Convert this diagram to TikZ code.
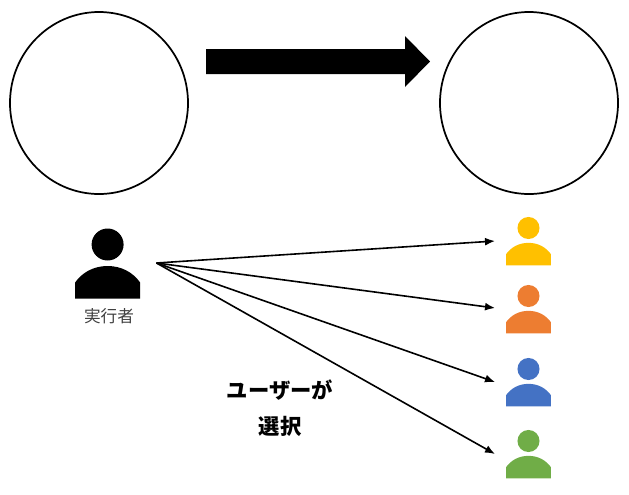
\documentclass[tikz,border=0pt]{standalone}
\usepackage{fontspec}
\usepackage{tikz}
\usetikzlibrary{arrows.meta,shapes.geometric}
\newfontfamily\cjk{Noto Sans CJK JP}
\definecolor{useryellow}{HTML}{FFC000}
\definecolor{userorange}{HTML}{ED7D31}
\definecolor{userblue}{HTML}{4472C4}
\definecolor{usergreen}{HTML}{70AD47}
\tikzstyle{stage} = [ellipse, draw=black, line width=1.3pt, minimum width=133.5pt, minimum height=136.5pt, inner sep=0pt]
\tikzstyle{arrow} = [line width=1.2pt,-{Latex[length=7.5pt,width=6pt]}]
\tikzstyle{label} = [font=\cjk, inner sep=0pt]
% head at (#1), r = 16 * #3
\newcommand{\usericon}[4]{
\node (#1) [circle, fill=#4, minimum size=#3*24pt, inner sep=0pt] at (#2) {};
\fill [#4] ([shift={(-32.5*#3,54*#3)}]#1.center) -- ++(0,-16*#3)
  .. controls +(7*#3,-10*#3) and +(-14*#3,0) .. ++(32.5*#3,-16.5*#3)
  .. controls +(14*#3,0) and +(-7*#3,-10*#3) .. ++(32.5*#3,16.5*#3)
  -- ++(0,16*#3) -- cycle;
}
\begin{document}
\begin{tikzpicture}[x=0.75pt,y=-0.75pt]
\useasboundingbox (0,0) rectangle (629,494);
\node (before) [stage] at (99,103) {};
\node (after) [stage] at (529,103) {};
\fill [black] (206,49) -- (405,49) -- (405,36) -- (430,61.5) -- (405,87) -- (405,74) -- (206,74) -- cycle;
\usericon{actor}{107.6,244.5}{1}{black}
\node (actorlabel) [label, text=black!75, font=\cjk\fontsize{12.5}{15}\selectfont] at (109,316) {実行者};
\usericon{user1}{528.5,228}{0.69}{useryellow}
\usericon{user2}{528.5,296}{0.69}{userorange}
\usericon{user3}{528.5,369}{0.69}{userblue}
\usericon{user4}{528.5,441}{0.69}{usergreen}
\coordinate (start) at (156.5,263);
\coordinate (end1) at (495,241);
\coordinate (end2) at (495,308);
\coordinate (end3) at (495,382);
\coordinate (end4) at (495,454);
\foreach \i in {1,...,4}
  \draw [arrow] (start) -- (end\i);
\node (select1) [label, font=\cjk\bfseries\fontsize{16}{19}\selectfont] at (280,390) {ユーザーが};
\node (select2) [label, font=\cjk\bfseries\fontsize{16}{19}\selectfont] at (280,426) {選択};
\end{tikzpicture}
\end{document}
